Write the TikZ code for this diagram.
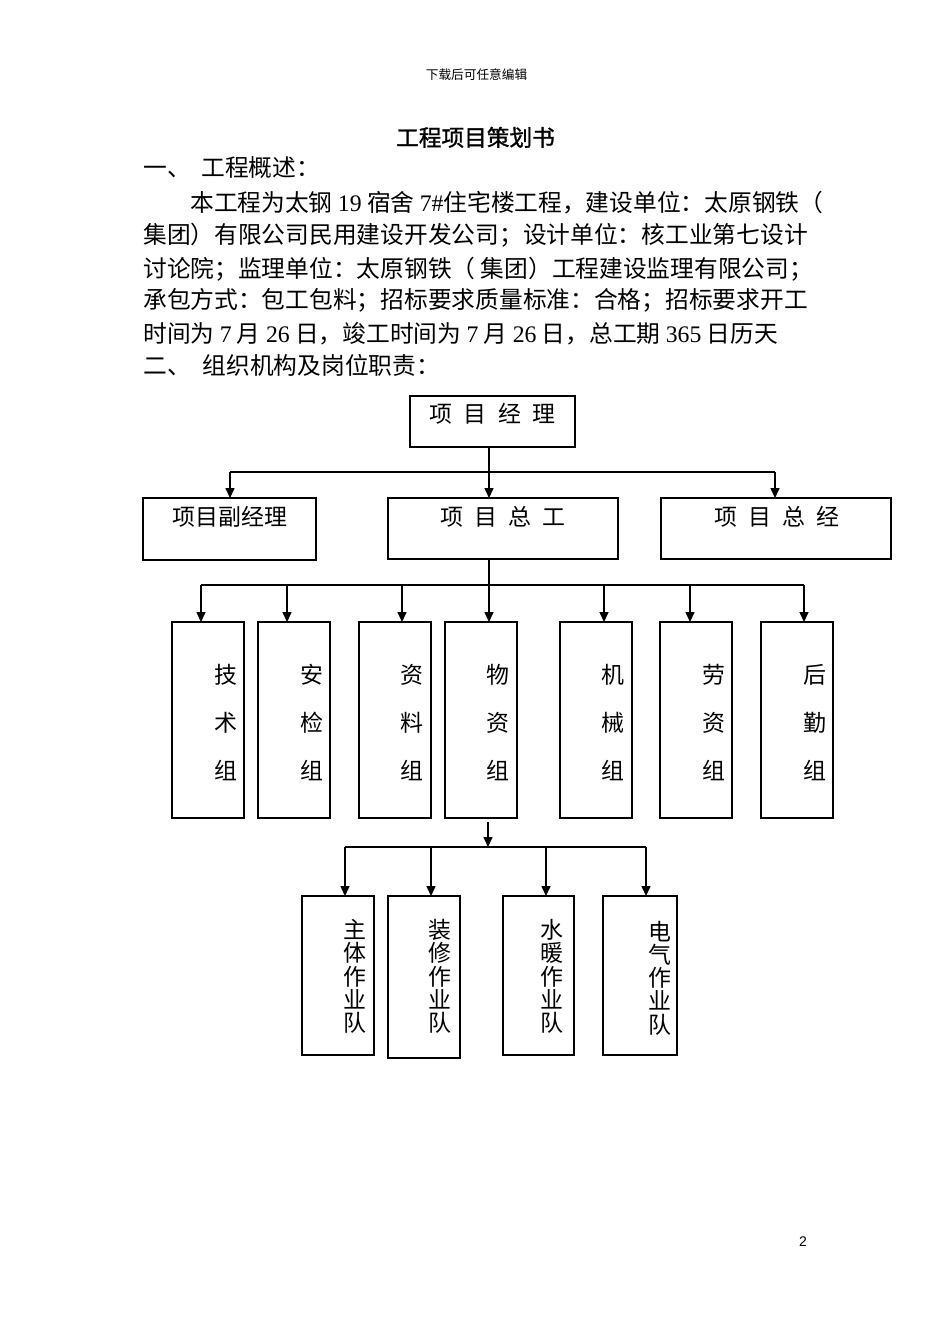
\documentclass[tikz,border=0pt]{standalone}
\usepackage{fontspec}
\setmainfont{Noto Sans CJK SC}
\newfontfamily\titlef{Noto Sans CJK SC}[FakeBold=1.2]
\newfontfamily\numf{Liberation Serif}
\newfontfamily\pagenumf{Liberation Sans}
\usetikzlibrary{arrows.meta}
\newdimen\pxu \pxu=0.75pt
\newcommand\myfs[2]{\fontsize{#1}{#2}\selectfont}
\tikzset{
  box/.style={draw, line width=1pt, inner sep=0pt, outer sep=0pt, anchor=north west},
  link/.style={line width=1pt},
  arr/.style={line width=1pt, -{Triangle[length=7.5pt,width=6.8pt]}},
  txtline/.style={anchor=base west, inner sep=0pt, font=\myfs{17.8pt}{17.8pt}},
  hdr/.style={anchor=base, inner sep=0pt, font=\myfs{9.5pt}{9.5pt}},
  ttl/.style={anchor=base, inner sep=0pt, font=\titlef\myfs{17pt}{17pt}},
  lbl/.style={inner sep=0pt, font=\myfs{17.2pt}{17.2pt}},
  vlthree/.style={inner sep=0pt, align=center, font=\myfs{17.2pt}{36pt}},
  vlfive/.style={inner sep=0pt, align=center, font=\myfs{17.2pt}{17.44pt}},
  pgn/.style={inner sep=0pt, font=\pagenumf\myfs{10.5pt}{10.5pt}},
}
\newcommand\gap{\hspace{8.5pt}}
\begin{document}
\begin{tikzpicture}[x=0.75pt,y=-0.75pt]
\useasboundingbox (0,0) rectangle (950,1344);
\fill[white] (0,0) rectangle (950,1344);

% header and text
\node[hdr] (hd) at (476.5,80) {下载后可任意编辑};
\node[ttl] (tt) at (475.5,146) {工程项目策划书};
\node[txtline] (l0) at (143,177) {一、\hspace{8pt}工程概述：};
\node[txtline] (l1) at (190,212) {本工程为太钢 {\numf 19} 宿舍 {\numf 7\#}住宅楼工程，建设单位：太原钢铁（};
\node[txtline] (l2) at (143,244) {集团）有限公司民用建设开发公司；设计单位：核工业第七设计};
\node[txtline] (l3) at (143,277) {讨论院；监理单位：太原钢铁（ 集团）工程建设监理有限公司；};
\node[txtline] (l4) at (143,309) {承包方式：包工包料；招标要求质量标准：合格；招标要求开工};
\node[txtline] (l5) at (143,342) {时间为 {\numf 7} 月 {\numf 26} 日，竣工时间为 {\numf 7} 月 {\numf 26} 日，总工期 {\numf 365} 日历天};
\node[txtline] (l6) at (143,374) {二、\hspace{9pt}组织机构及岗位职责：};

% level 1
\node[box, minimum width=165\pxu, minimum height=51\pxu] (pm) at (410,396) {};
\node[lbl] (pmt) at (492.5,414) {项\gap 目\gap 经\gap 理};

% level 2
\node[box, minimum width=173\pxu, minimum height=62\pxu] (dpm) at (143,498) {};
\node[box, minimum width=230\pxu, minimum height=61\pxu] (ce) at (388,498) {};
\node[box, minimum width=230\pxu, minimum height=61\pxu] (gm) at (661,498) {};
\node[lbl] (dpmt) at (230,517) {项目副经理};
\node[lbl] (cet) at (503,517) {项\gap 目\gap 总\gap 工};
\node[lbl] (gmt) at (777,517) {项\gap 目\gap 总\gap 经};

% level 3
\node[box, minimum width=72\pxu, minimum height=196\pxu] (g1) at (172,622) {};
\node[box, minimum width=72\pxu, minimum height=196\pxu] (g2) at (258,622) {};
\node[box, minimum width=72\pxu, minimum height=196\pxu] (g3) at (359,622) {};
\node[box, minimum width=72\pxu, minimum height=196\pxu] (g4) at (445,622) {};
\node[box, minimum width=72\pxu, minimum height=196\pxu] (g5) at (560,622) {};
\node[box, minimum width=72\pxu, minimum height=196\pxu] (g6) at (660,622) {};
\node[box, minimum width=72\pxu, minimum height=196\pxu] (g7) at (761,622) {};
\node[vlthree] (g1t) at (226,723) {技\\术\\组};
\node[vlthree] (g2t) at (312,723) {安\\检\\组};
\node[vlthree] (g3t) at (412,723) {资\\料\\组};
\node[vlthree] (g4t) at (498,723) {物\\资\\组};
\node[vlthree] (g5t) at (613,723) {机\\械\\组};
\node[vlthree] (g6t) at (714,723) {劳\\资\\组};
\node[vlthree] (g7t) at (815,723) {后\\勤\\组};

% level 4
\node[box, minimum width=72\pxu, minimum height=159\pxu] (w1) at (302,896) {};
\node[box, minimum width=72\pxu, minimum height=162\pxu] (w2) at (388,896) {};
\node[box, minimum width=71\pxu, minimum height=159\pxu] (w3) at (503,896) {};
\node[box, minimum width=74\pxu, minimum height=159\pxu] (w4) at (603,896) {};
\node[vlfive] (w1t) at (355,976.5) {主\\体\\作\\业\\队};
\node[vlfive] (w2t) at (440,976.5) {装\\修\\作\\业\\队};
\node[vlfive] (w3t) at (552,976.5) {水\\暖\\作\\业\\队};
\node[vlfive] (w4t) at (660,978) {电\\气\\作\\业\\队};

\node[pgn] (pn) at (803,1242) {2};

% connectors level 1 -> 2
\coordinate (j1) at (489,472);
\coordinate (a1) at (230,472);
\coordinate (a3) at (775,472);
\draw[link] (j1 |- pm.south) -- (j1);
\draw[link] (a1) -- (a3);
\draw[arr] (a1) -- (a1 |- dpm.north);
\draw[arr] (j1) -- (j1 |- ce.north);
\draw[arr] (a3) -- (a3 |- gm.north);

% connectors level 2 -> 3
\coordinate (j2) at (489,585);
\coordinate (b1) at (201,585);
\coordinate (b2) at (287,585);
\coordinate (b3) at (402,585);
\coordinate (b5) at (604,585);
\coordinate (b6) at (690,585);
\coordinate (b7) at (804,585);
\draw[link] (j2 |- ce.south) -- (j2);
\draw[link] (b1) -- (b7);
\draw[arr] (b1) -- (b1 |- g1.north);
\draw[arr] (b2) -- (b2 |- g2.north);
\draw[arr] (b3) -- (b3 |- g3.north);
\draw[arr] (j2) -- (j2 |- g4.north);
\draw[arr] (b5) -- (b5 |- g5.north);
\draw[arr] (b6) -- (b6 |- g6.north);
\draw[arr] (b7) -- (b7 |- g7.north);

% connectors level 3 -> 4
\coordinate (j3) at (488,847);
\coordinate (c1) at (345,847);
\coordinate (c2) at (431,847);
\coordinate (c3) at (546,847);
\coordinate (c4) at (646,847);
\path (j3 |- g4.south) ++(0,4) coordinate (w0);
\draw[arr] (w0) -- (j3);
\draw[link] (c1) -- (c4);
\draw[arr] (c1) -- (c1 |- w1.north);
\draw[arr] (c2) -- (c2 |- w2.north);
\draw[arr] (c3) -- (c3 |- w3.north);
\draw[arr] (c4) -- (c4 |- w4.north);
\end{tikzpicture}
\end{document}
